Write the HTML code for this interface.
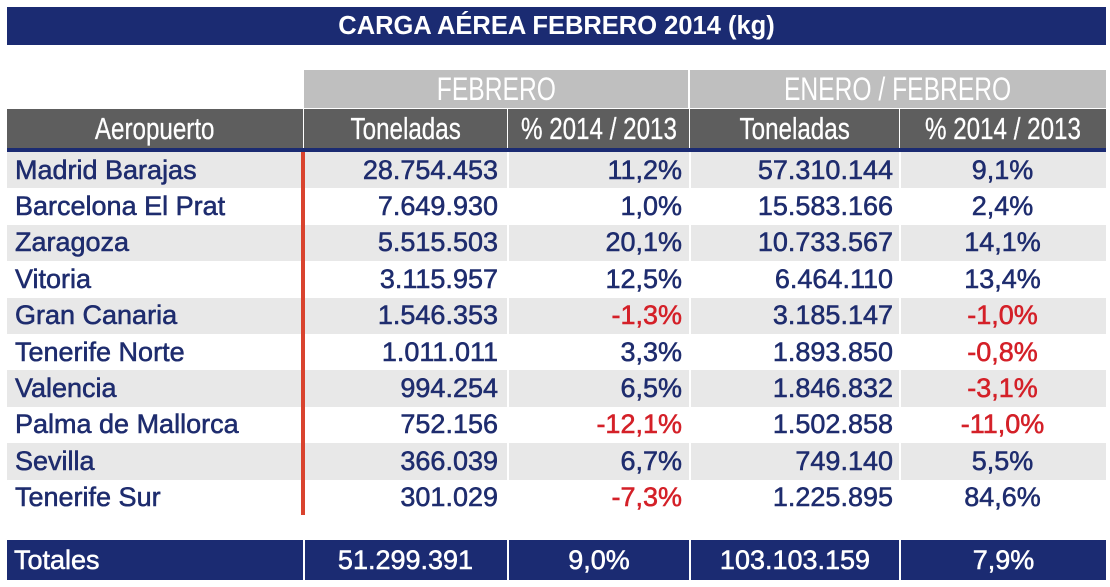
<!DOCTYPE html>
<html><head><meta charset="utf-8"><style>
*{margin:0;padding:0;box-sizing:border-box}
html,body{width:1110px;height:587px;background:#fff;overflow:hidden;position:relative;font-family:"Liberation Sans",sans-serif}
.abs{position:absolute}
.title{left:7px;top:7px;width:1099px;height:38px;background:#1b2b72;color:#fff;font-weight:bold;font-size:25.5px;display:flex;align-items:center;justify-content:center}
.gh{top:70px;height:38px;background:#bfbfbf;color:#fff;font-size:32px;display:flex;align-items:center;justify-content:center}
.dh{top:109px;height:39px;background:#5e5e5e;color:#fff;font-size:31px;display:flex;align-items:center;justify-content:center;-webkit-text-stroke:0.3px #fff}
.sx{display:inline-block;transform:scaleX(0.78);white-space:nowrap}
.sx2{display:inline-block;transform:scaleX(0.77);white-space:nowrap}
.navy{left:7px;top:148px;width:1099px;height:4px;background:#1b2b72}
.row{left:7px;width:1099px;height:36.4px}
.g{background:#e8e8e8}
.c{position:absolute;top:0;height:100%;display:flex;align-items:center;font-size:27px;color:#1e2c6e;-webkit-text-stroke:0.55px #1e2c6e;white-space:nowrap}
.neg{color:#d42028;-webkit-text-stroke:0.55px #d42028}
.vl{position:absolute;top:0;height:100%;width:2px;background:#fff}
.red{left:301px;top:152px;width:4px;height:363px;background:#d9432e}
.tot{left:7px;top:540px;width:1099px;height:40px;background:#1b2b72}
.tot .c{color:#fff;-webkit-text-stroke:0.55px #fff}
</style></head><body>
<div class="abs title">CARGA AÉREA FEBRERO 2014 (kg)</div>

<div class="abs gh" style="left:304px;width:384px"><span class="sx2">FEBRERO</span></div>
<div class="abs gh" style="left:690px;width:416px"><span class="sx2">ENERO / FEBRERO</span></div>

<div class="abs dh" style="left:7px;width:296px"><span class="sx">Aeropuerto</span></div>
<div class="abs dh" style="left:304px;width:203px"><span class="sx">Toneladas</span></div>
<div class="abs dh" style="left:508px;width:181px"><span class="sx">% 2014 / 2013</span></div>
<div class="abs dh" style="left:690px;width:209px"><span class="sx">Toneladas</span></div>
<div class="abs dh" style="left:900px;width:206px"><span class="sx">% 2014 / 2013</span></div>
<div class="abs navy"></div>

<div class="abs row g" style="top:152px"><div class="vl" style="left:500px"></div><div class="vl" style="left:682px"></div><div class="vl" style="left:892px"></div>
<div class="c" style="left:8px">Madrid Barajas</div><div class="c" style="right:608px">28.754.453</div><div class="c" style="right:424px">11,2%</div><div class="c" style="right:213px">57.310.144</div><div class="c" style="left:892px;width:207px;justify-content:center">9,1%</div></div>

<div class="abs row" style="top:188.4px">
<div class="c" style="left:8px">Barcelona El Prat</div><div class="c" style="right:608px">7.649.930</div><div class="c" style="right:424px">1,0%</div><div class="c" style="right:213px">15.583.166</div><div class="c" style="left:892px;width:207px;justify-content:center">2,4%</div></div>

<div class="abs row g" style="top:224.8px"><div class="vl" style="left:500px"></div><div class="vl" style="left:682px"></div><div class="vl" style="left:892px"></div>
<div class="c" style="left:8px">Zaragoza</div><div class="c" style="right:608px">5.515.503</div><div class="c" style="right:424px">20,1%</div><div class="c" style="right:213px">10.733.567</div><div class="c" style="left:892px;width:207px;justify-content:center">14,1%</div></div>

<div class="abs row" style="top:261.2px">
<div class="c" style="left:8px">Vitoria</div><div class="c" style="right:608px">3.115.957</div><div class="c" style="right:424px">12,5%</div><div class="c" style="right:213px">6.464.110</div><div class="c" style="left:892px;width:207px;justify-content:center">13,4%</div></div>

<div class="abs row g" style="top:297.6px"><div class="vl" style="left:500px"></div><div class="vl" style="left:682px"></div><div class="vl" style="left:892px"></div>
<div class="c" style="left:8px">Gran Canaria</div><div class="c" style="right:608px">1.546.353</div><div class="c neg" style="right:424px">-1,3%</div><div class="c" style="right:213px">3.185.147</div><div class="c neg" style="left:892px;width:207px;justify-content:center">-1,0%</div></div>

<div class="abs row" style="top:334px">
<div class="c" style="left:8px">Tenerife Norte</div><div class="c" style="right:608px">1.011.011</div><div class="c" style="right:424px">3,3%</div><div class="c" style="right:213px">1.893.850</div><div class="c neg" style="left:892px;width:207px;justify-content:center">-0,8%</div></div>

<div class="abs row g" style="top:370.4px"><div class="vl" style="left:500px"></div><div class="vl" style="left:682px"></div><div class="vl" style="left:892px"></div>
<div class="c" style="left:8px">Valencia</div><div class="c" style="right:608px">994.254</div><div class="c" style="right:424px">6,5%</div><div class="c" style="right:213px">1.846.832</div><div class="c neg" style="left:892px;width:207px;justify-content:center">-3,1%</div></div>

<div class="abs row" style="top:406.8px">
<div class="c" style="left:8px">Palma de Mallorca</div><div class="c" style="right:608px">752.156</div><div class="c neg" style="right:424px">-12,1%</div><div class="c" style="right:213px">1.502.858</div><div class="c neg" style="left:892px;width:207px;justify-content:center">-11,0%</div></div>

<div class="abs row g" style="top:443.2px"><div class="vl" style="left:500px"></div><div class="vl" style="left:682px"></div><div class="vl" style="left:892px"></div>
<div class="c" style="left:8px">Sevilla</div><div class="c" style="right:608px">366.039</div><div class="c" style="right:424px">6,7%</div><div class="c" style="right:213px">749.140</div><div class="c" style="left:892px;width:207px;justify-content:center">5,5%</div></div>

<div class="abs row" style="top:479.6px">
<div class="c" style="left:8px">Tenerife Sur</div><div class="c" style="right:608px">301.029</div><div class="c neg" style="right:424px">-7,3%</div><div class="c" style="right:213px">1.225.895</div><div class="c" style="left:892px;width:207px;justify-content:center">84,6%</div></div>

<div class="abs red"></div>

<div class="abs tot">
<div class="vl" style="left:296px"></div><div class="vl" style="left:500px"></div><div class="vl" style="left:682px"></div><div class="vl" style="left:892px"></div>
<div class="c" style="left:7px">Totales</div>
<div class="c" style="left:297px;width:203px;justify-content:center">51.299.391</div>
<div class="c" style="left:502px;width:180px;justify-content:center">9,0%</div>
<div class="c" style="left:684px;width:208px;justify-content:center">103.103.159</div>
<div class="c" style="left:894px;width:205px;justify-content:center">7,9%</div>
</div>
</body></html>
